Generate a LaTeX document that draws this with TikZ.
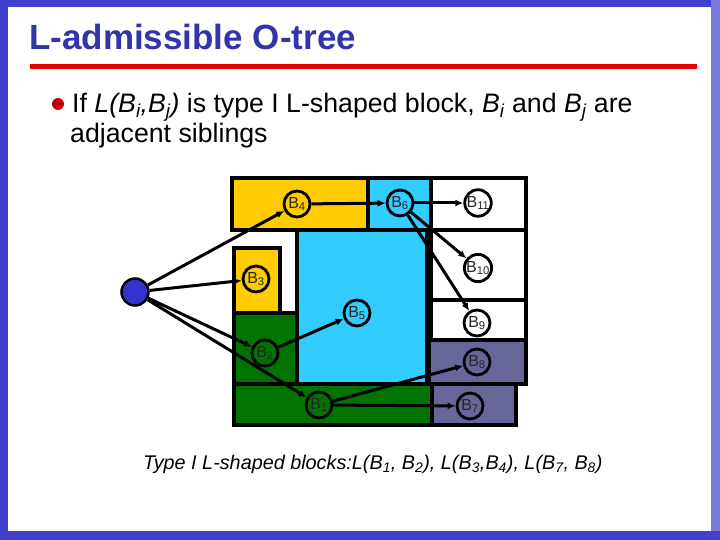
\documentclass[tikz,border=0pt]{standalone}
\usepackage{fontspec}
\setmainfont{Liberation Sans}
\usetikzlibrary{arrows.meta}
\definecolor{framebl}{RGB}{64,64,204}
\definecolor{titlebl}{RGB}{51,51,170}
\definecolor{redl}{RGB}{230,0,0}
\definecolor{yel}{RGB}{255,204,0}
\definecolor{cya}{RGB}{51,204,255}
\definecolor{grn}{RGB}{0,115,0}
\definecolor{pur}{RGB}{102,102,153}
\definecolor{rootbl}{RGB}{51,51,204}
\begin{document}
\begin{tikzpicture}[x=1pt,y=-1pt,
  blk/.style={draw=black,line width=3.5pt},
  circ/.style={circle,draw=black,line width=2.8pt,minimum size=26pt,inner sep=0pt,font=\fontsize{16}{16}\selectfont,text=black!85},
  edge/.style={line width=3pt,-{Latex[length=8pt,width=7pt]}}]
\useasboundingbox (0,0) rectangle (720,540);
% frame
\fill[white] (0,0) rectangle (720,540);
\fill[framebl] (0,0) rectangle (720,7);
\fill[framebl] (0,0) rectangle (8,540);
\fill[framebl!70] (711,0) rectangle (720,540);
\fill[framebl] (0,531) rectangle (720,540);
% title
\node[anchor=base west,inner sep=0pt,text=titlebl,font=\fontsize{35}{35}\selectfont\bfseries] (title) at (29,50) {L-admissible O-tree};
\fill[redl] (30,64) rectangle (697,69);
% bullet
\fill[redl!85!black] (58,104) circle (6);
\node[anchor=base west,inner sep=0pt,font=\fontsize{26.7}{27}\selectfont] (line1) at (72,113) {If \textit{L(B\textsubscript{i},B\textsubscript{j})} is type I L-shaped block, \textit{B\textsubscript{i}} and \textit{B\textsubscript{j}} are};
\node[anchor=base west,inner sep=0pt,font=\fontsize{26.7}{27}\selectfont] (line2) at (70,143) {adjacent siblings};
% blocks
\draw[blk,fill=yel] (232,178) rectangle (368,230);
\draw[blk,fill=cya] (368,178) rectangle (431,230);
\draw[blk,fill=white] (431,178) rectangle (526,230);
\draw[blk,fill=white] (431,230) rectangle (526,300);
\draw[blk,fill=white] (431,300) rectangle (526,340);
\draw[blk,fill=pur] (429,340) rectangle (526,384);
\draw[blk,fill=cya] (297,230) rectangle (427,384);
\draw[blk,fill=yel] (234,248) rectangle (280,313);
\draw[blk,fill=grn] (234,313) rectangle (297,384);
\draw[blk,fill=grn] (234,384) rectangle (432,425);
\draw[blk,fill=pur] (432,384) rectangle (516,425);
% nodes
\node[circle,draw=black,line width=2.5pt,fill=rootbl,minimum size=27pt,inner sep=0pt] (r) at (135,292) {};
\node[circ] (b4) at (297,204) {B\textsubscript{4}};
\node[circ] (b6) at (400,203) {B\textsubscript{6}};
\node[circ] (b11) at (478,203) {B\textsubscript{11}};
\node[circ] (b10) at (478,268) {B\textsubscript{10}};
\node[circ] (b3) at (256,279) {B\textsubscript{3}};
\node[circ] (b5) at (357,313) {B\textsubscript{5}};
\node[circ] (b9) at (477,323) {B\textsubscript{9}};
\node[circ] (b2) at (265,353) {B\textsubscript{2}};
\node[circ] (b8) at (477,362) {B\textsubscript{8}};
\node[circ] (b1) at (319,405) {B\textsubscript{1}};
\node[circ] (b7) at (470,406) {B\textsubscript{7}};
% edges
\draw[edge] (r) -- (b4);
\draw[edge] (r) -- (b3);
\draw[edge] (r) -- (b2);
\draw[edge] (r) -- (b1);
\draw[edge] (b4) -- (b6);
\draw[edge] (b6) -- (b11);
\draw[edge] (b6) -- (b10);
\draw[edge] (b6) -- (b9);
\draw[edge] (b2) -- (b5);
\draw[edge] (b1) -- (b8);
\draw[edge] (b1) -- (b7);
% caption
\node[anchor=base west,inner sep=0pt,font=\fontsize{19.8}{20}\selectfont\itshape] (cap) at (143,469) {Type I L-shaped blocks:L(B\textsubscript{1}, B\textsubscript{2}), L(B\textsubscript{3},B\textsubscript{4}), L(B\textsubscript{7}, B\textsubscript{8})};
\end{tikzpicture}
\end{document}
